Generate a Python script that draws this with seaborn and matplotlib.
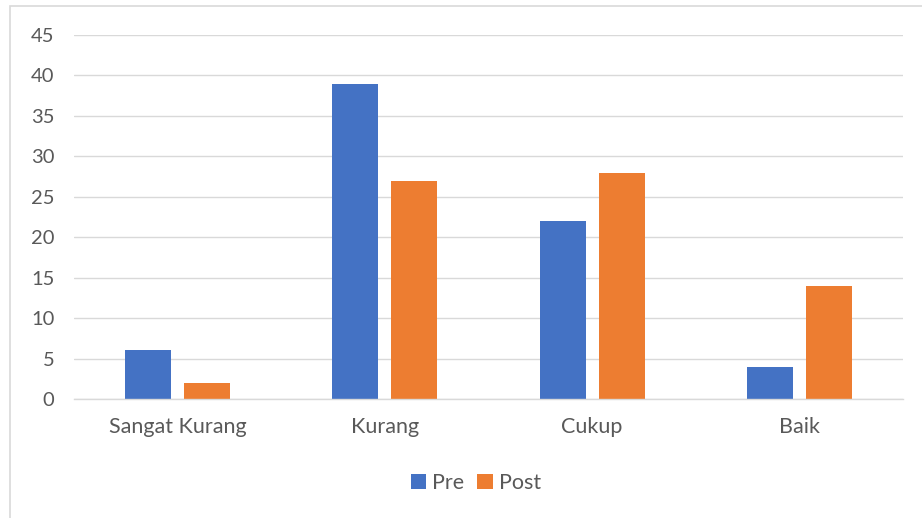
import matplotlib
matplotlib.use("Agg")
import matplotlib.pyplot as plt
import seaborn as sns
import pandas as pd
from matplotlib.patches import Rectangle

categories = ["Sangat Kurang", "Kurang", "Cukup", "Baik"]
pre = [6, 39, 22, 4]
post = [2, 27, 28, 14]
series = ["Pre", "Post"]
yticks = [0, 5, 10, 15, 20, 25, 30, 35, 40, 45]

df = pd.DataFrame({
    "cat": categories * 2,
    "val": pre + post,
    "series": ["Pre"] * len(categories) + ["Post"] * len(categories),
})

sns.set_theme(style="white")
plt.rcParams['font.family'] = ['Lato', 'DejaVu Sans']
txt = "#595959"

fig = plt.figure(figsize=(9.22, 5.18), dpi=100)
ax = fig.add_axes([74/922, 1-399/518, (903-74)/922, (399-35)/518])

sns.barplot(data=df, x="cat", y="val", hue="series", order=categories,
            hue_order=series, palette=["#4472C4", "#ED7D31"],
            width=0.569, gap=0.218, ax=ax, legend=True, saturation=1,
            linewidth=0, edgecolor="none")

ax.set_ylim(0, 45)
ax.set_xlim(-0.5, 3.5)
ax.set_yticks(yticks)
ax.yaxis.grid(True, color="#D9D9D9", linewidth=1)
ax.set_axisbelow(True)
for s in ["top", "right", "left"]:
    ax.spines[s].set_visible(False)
ax.spines["bottom"].set_color("#D9D9D9")
ax.spines["bottom"].set_linewidth(1)
ax.tick_params(axis="y", length=0, labelsize=14.5, colors=txt, pad=14)
ax.tick_params(axis="x", length=0, labelsize=15.5, colors=txt, pad=13)
ax.set_xlabel("")
ax.set_ylabel("")

leg = ax.legend(loc="center", bbox_to_anchor=(476/922, 1-483/518),
                bbox_transform=fig.transFigure, ncol=2, frameon=False,
                fontsize=15.5, handlelength=0.7, handleheight=0.7,
                columnspacing=0.6, handletextpad=0.3)
for t in leg.get_texts():
    t.set_color(txt)

fig.patches.append(Rectangle((10/922, -0.1), 1.2, 1 - 6/518 + 0.1,
                             transform=fig.transFigure, fill=False,
                             edgecolor="#D9D9D9", linewidth=1.2))

fig.savefig("out.png", dpi=100)
